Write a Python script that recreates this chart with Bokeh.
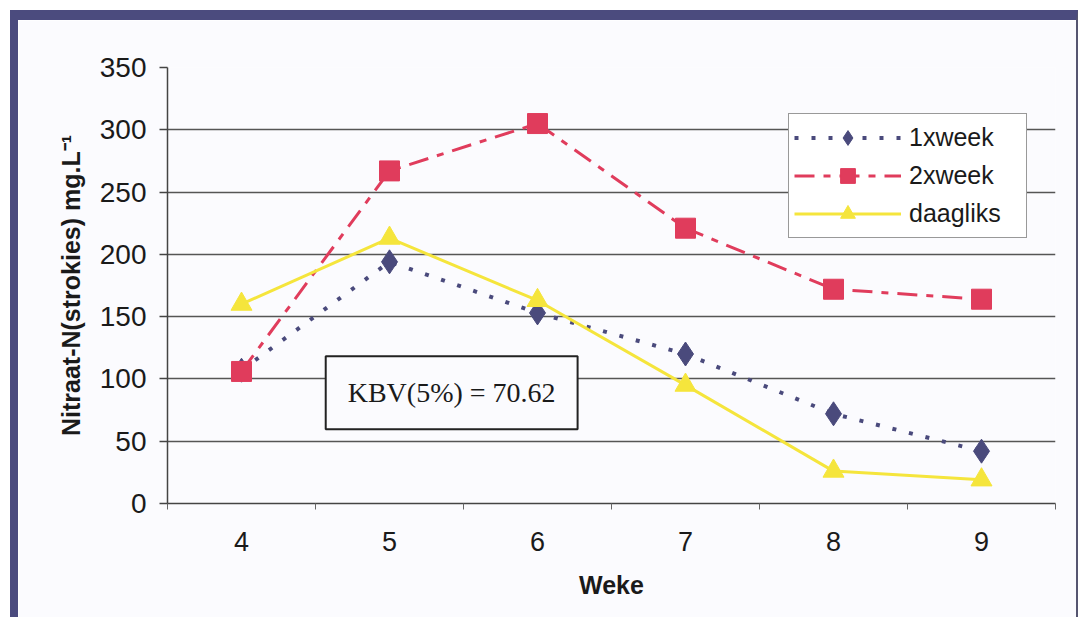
from bokeh.plotting import figure
from bokeh.models import Range1d, FixedTicker, Legend, LegendItem, Label
from bokeh.embed import file_html
from bokeh.resources import INLINE

# ---- data ----
weeks = [4, 5, 6, 7, 8, 9]
week_labels = ["4", "5", "6", "7", "8", "9"]
one_x_week = [107, 194, 153, 120, 72, 42]
two_x_week = [106, 267, 305, 221, 172, 164]
daagliks = [160, 213, 163, 95, 26, 19]
y_ticks = [0, 50, 100, 150, 200, 250, 300, 350]
grid_ticks = [50, 100, 150, 200, 250, 300]
series_names = ["1xweek", "2xweek", "daagliks"]
kbv_text = "KBV(5%) = 70.62"
y_title = "Nitraat-N(strokies) mg.L\u207b\u00b9"
x_title = "Weke"

BG = "#fbfbfe"
NAVY = "#4b4b7e"
FONT = "Liberation Sans"

# canvas ends up (width + 10) x (height + 10) because of the css borders
p = figure(width=1058, height=597, output_backend="svg", toolbar_location=None,
           x_range=Range1d(3.5, 9.5), y_range=Range1d(0, 350),
           min_border_left=149, min_border_right=31, min_border_top=47,
           min_border_bottom=124)
p.styles = {
    "margin-top": "10px",
    "margin-left": "10px",
    "border-top": "10px solid " + NAVY,
    "border-left": "8px solid " + NAVY,
    "border-right": "2px solid #555570",
    "box-sizing": "content-box",
}
p.background_fill_color = BG
p.border_fill_color = BG
p.outline_line_color = None

# grid
p.xgrid.visible = False
p.ygrid.ticker = FixedTicker(ticks=grid_ticks)
p.ygrid.grid_line_color = "#555555"
p.ygrid.grid_line_width = 1.5

# y axis
p.yaxis.ticker = FixedTicker(ticks=y_ticks)
p.yaxis.axis_line_color = "#444444"
p.yaxis.axis_line_width = 1.5
p.yaxis.major_tick_out = 8
p.yaxis.major_tick_in = 0
p.yaxis.minor_tick_line_color = None
p.yaxis.major_tick_line_color = "#444444"
p.yaxis.major_tick_line_width = 1.5
p.yaxis.major_label_text_font = FONT
p.yaxis.major_label_text_font_size = "28px"
p.yaxis.major_label_text_color = "#1a1a1a"
p.yaxis.major_label_standoff = 13
p.yaxis.axis_label = y_title
p.yaxis.axis_label_text_font = FONT
p.yaxis.axis_label_text_font_size = "25px"
p.yaxis.axis_label_text_font_style = "bold"
p.yaxis.axis_label_text_color = "#1a1a1a"
p.yaxis.axis_label_standoff = 12

# x axis
p.xaxis.ticker = FixedTicker(ticks=weeks, minor_ticks=[w - 0.5 for w in weeks] + [weeks[-1] + 0.5])
p.xaxis.major_label_overrides = {w: lab for w, lab in zip(weeks, week_labels)}
p.xaxis.axis_line_color = "#444444"
p.xaxis.axis_line_width = 1.5
p.xaxis.major_tick_line_color = None
p.xaxis.major_tick_out = 0
p.xaxis.major_tick_in = 0
p.xaxis.minor_tick_out = 6
p.xaxis.minor_tick_in = 0
p.xaxis.minor_tick_line_color = "#666666"
p.xaxis.major_label_text_font = FONT
p.xaxis.major_label_text_font_size = "27px"
p.xaxis.major_label_text_color = "#1a1a1a"
p.xaxis.major_label_standoff = 22
p.xaxis.axis_label = x_title
p.xaxis.axis_label_text_font = FONT
p.xaxis.axis_label_text_font_size = "25px"
p.xaxis.axis_label_text_font_style = "bold"
p.xaxis.axis_label_text_color = "#1a1a1a"
p.xaxis.axis_label_standoff = 17

# series
c1, c2, c3 = "#4a4a7c", "#e03c5c", "#f5e53c"
l1 = p.line(weeks, one_x_week, line_color=c1, line_width=4, line_dash="4 13")
s1 = p.scatter(weeks, one_x_week, marker="diamond", size=24, color=c1)
l2 = p.line(weeks, two_x_week, line_color=c2, line_width=3, line_dash="20 9 7 9")
s2 = p.scatter(weeks, two_x_week, marker="square", size=20, color=c2)
l3 = p.line(weeks, daagliks, line_color=c3, line_width=3)
s3 = p.scatter(weeks, daagliks, marker="triangle", size=21, color=c3)

legend = Legend(items=[LegendItem(label=series_names[0], renderers=[l1, s1]),
                       LegendItem(label=series_names[1], renderers=[l2, s2]),
                       LegendItem(label=series_names[2], renderers=[l3, s3])],
                location=(621, 265))
legend.border_line_color = "#333333"
legend.border_line_width = 1.5
legend.background_fill_color = "white"
legend.background_fill_alpha = 1
legend.label_text_font = FONT
legend.label_text_font_size = "25px"
legend.label_text_color = "#1a1a1a"
legend.glyph_width = 107
legend.glyph_height = 37
legend.spacing = 1
legend.padding = 5
legend.margin = 0
legend.label_standoff = 8
legend.label_width = 112
p.add_layout(legend)

kbv = Label(x=5.42, y=89, text=kbv_text, text_font="Liberation Serif",
            text_font_size="28px", text_align="center", text_baseline="middle",
            text_color="#1a1a1a", border_line_color="#222222", border_line_width=2,
            background_fill_color=BG, background_fill_alpha=1,
            padding=dict(left=22, right=22, top=21, bottom=21))
p.add_layout(kbv)

open("out.html", "w").write(file_html(p, INLINE))
